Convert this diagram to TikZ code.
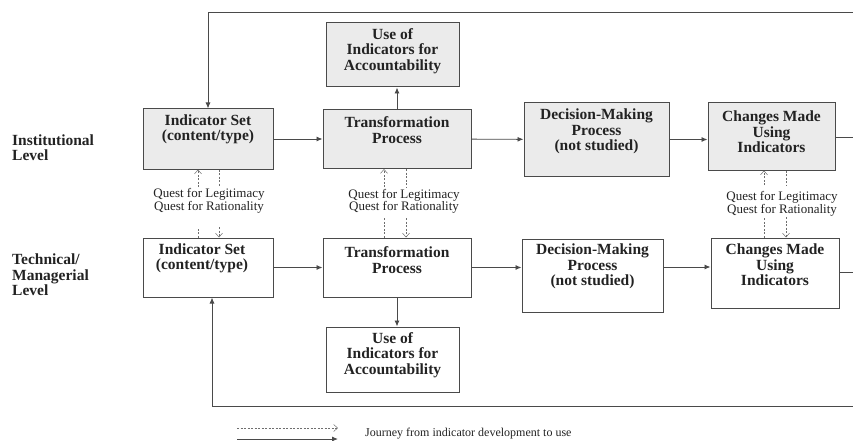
\documentclass[tikz,border=0pt]{standalone}
\usepackage{fontspec}
\setmainfont{Liberation Serif}
\usetikzlibrary{arrows.meta}
\definecolor{boxfill}{HTML}{EBEBEB}
\definecolor{edge}{HTML}{4A4A4A}
\definecolor{ink}{HTML}{222222}
\begin{document}
\begin{tikzpicture}[x=1pt,y=-1pt,
  box/.style={draw=edge, line width=1pt, inner sep=0pt},
  shaded/.style={box, fill=boxfill},
  boxtext/.style={font=\fontsize{15.5}{15.5}\selectfont\bfseries, align=center, inner sep=0pt, text=ink},
  leveltext/.style={font=\fontsize{15.5}{15.5}\selectfont\bfseries, align=left, inner sep=0pt, anchor=west, text=ink},
  questtext/.style={font=\fontsize{13}{12.5}\selectfont, align=center, inner sep=0pt, text=ink},
  flow/.style={draw=edge, line width=0.9pt, -{Latex[length=6pt,width=5pt]}},
  plainline/.style={draw=edge, line width=0.9pt},
  quest/.style={draw=edge!80, line width=0.5pt, dash pattern=on 2pt off 1.5pt},
  questarrow/.style={quest, -{Straight Barb[length=4pt,width=7pt]}}
]
\useasboundingbox (0,0) rectangle (853,441);

% level labels
\node[leveltext] (lvlI) at (12,147.5) {Institutional\\Level};
\node[leveltext] (lvlT) at (12,275) {Technical/\\Managerial\\Level};

% institutional level boxes
\node[shaded, minimum width=130pt, minimum height=60pt] (IS1) at (208,139) {};
\node[shaded, minimum width=148pt, minimum height=59pt] (TP1) at (397,139) {};
\node[shaded, minimum width=133pt, minimum height=64pt] (UA1) at (392.5,55) {};
\node[shaded, minimum width=145pt, minimum height=73pt] (DM1) at (596.5,139.5) {};
\node[shaded, minimum width=127pt, minimum height=67pt] (CM1) at (771.5,136.5) {};

\node[boxtext] (IS1t) at (208,129.5) {Indicator Set\\(content/type)};
\node[boxtext] (TP1t) at (397,130) {Transformation\\Process};
\node[boxtext] (UA1t) at (392.5,51) {Use of\\Indicators for\\Accountability};
\node[boxtext] (DM1t) at (596.5,131.5) {Decision-Making\\Process\\(not studied)};
\node[boxtext] (CM1t) at (771.5,132) {Changes Made\\Using\\Indicators};

% technical/managerial level boxes
\node[box, minimum width=130pt, minimum height=59pt] (IS2) at (208,267.5) {};
\node[box, minimum width=148pt, minimum height=59pt] (TP2) at (397,267.5) {};
\node[box, minimum width=133pt, minimum height=65pt] (UA2) at (392.5,359.5) {};
\node[box, minimum width=141pt, minimum height=73pt] (DM2) at (592.5,275.5) {};
\node[box, minimum width=128pt, minimum height=70pt] (CM2) at (775,273) {};

\node[boxtext] (IS2t) at (202,258.5) {Indicator Set\\(content/type)};
\node[boxtext] (TP2t) at (397,260) {Transformation\\Process};
\node[boxtext] (UA2t) at (392.5,355) {Use of\\Indicators for\\Accountability};
\node[boxtext] (DM2t) at (592.5,266.5) {Decision-Making\\Process\\(not studied)};
\node[boxtext] (CM2t) at (775,265) {Changes Made\\Using\\Indicators};

% flow along the institutional level
\draw[flow] (IS1) -- (TP1);
\draw[flow] (TP1) -- (DM1);
\draw[flow] (DM1.east) -- (DM1.east -| CM1.west);
\draw[flow] (TP1.north) -- (TP1.north |- UA1.south);

% flow along the technical/managerial level
\draw[flow] (IS2) -- (TP2);
\draw[flow] (TP2.east) -- (TP2.east -| DM2.west);
\draw[flow] (DM2.east |- 0,267) -- (CM2.west |- 0,267);
\draw[flow] (TP2.south) -- (TP2.south |- UA2.north);

% feedback loops running off the right edge
\coordinate (TR) at (853,12);
\coordinate (BR) at (853,406);
\coordinate (BL) at (212,406);
\draw[plainline] (CM1.east |- 0,137) -- (TR |- 0,137);
\draw[plainline] (CM2.east |- 0,272) -- (BR |- 0,272);
\draw[flow] (TR) -| (IS1.north);
\draw[flow] (BR) -- (BL) -- (BL |- IS2.south);

% quests between the two levels
\node[questtext] (Q1) at (209,201) {Quest for Legitimacy\\Quest for Rationality};
\node[questtext] (Q2) at (404,201.5) {Quest for Legitimacy\\Quest for Rationality};
\node[questtext] (Q3) at (782,204) {Quest for Legitimacy\\Quest for Rationality};

\coordinate (u1) at (198,187); \coordinate (l1) at (198,227);
\coordinate (d1) at (219,187); \coordinate (m1) at (219,227);
\draw[quest] (IS2.north -| l1) -- (l1);
\draw[questarrow] (u1) -- (IS1.south -| u1);
\draw[quest] (IS1.south -| d1) -- (d1);
\draw[questarrow] (m1) -- (IS2.north -| m1);

\coordinate (u2) at (384,187); \coordinate (l2) at (384,218);
\coordinate (d2) at (406,187); \coordinate (m2) at (406,218);
\draw[quest] (TP2.north -| l2) -- (l2);
\draw[questarrow] (u2) -- (TP1.south -| u2);
\draw[quest] (TP1.south -| d2) -- (d2);
\draw[questarrow] (m2) -- (TP2.north -| m2);

\coordinate (u3) at (764,185); \coordinate (l3) at (764,217);
\coordinate (d3) at (786,185); \coordinate (m3) at (786,217);
\draw[quest] (CM2.north -| l3) -- (l3);
\draw[questarrow] (u3) -- (CM1.south -| u3);
\draw[quest] (CM1.south -| d3) -- (d3);
\draw[questarrow] (m3) -- (CM2.north -| m3);

% legend
\coordinate (La) at (237,428); \coordinate (Lb) at (338,428);
\coordinate (Lc) at (237,439); \coordinate (Ld) at (338,439);
\draw[questarrow] (La) -- (Lb);
\draw[flow] (Lc) -- (Ld);
\node[questtext, font=\fontsize{12}{12}\selectfont, anchor=west] (leg) at (365,434) {Journey from indicator development to use};
\end{tikzpicture}
\end{document}
